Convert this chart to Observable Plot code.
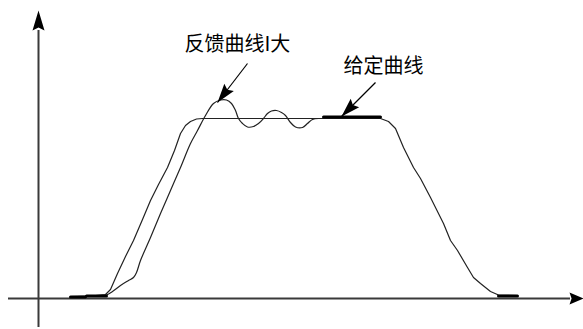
<!DOCTYPE html>
<html><head><meta charset="utf-8">
<script src="https://cdn.jsdelivr.net/npm/d3@7"></script>
<script src="https://cdn.jsdelivr.net/npm/@observablehq/plot@0.6"></script>
<style>html,body{margin:0;padding:0;background:#fff;} #chart svg{display:block;background:#fff}</style>
</head><body><div id="chart"></div>
<script>
// Given curve (给定曲线): time vs value
const givenT = [32,52,67,72,79,87,95,104,112,120,129,136,142,147,152,158,164,342,350,357,365,375,382,392,405,412,419,429,435,442,452,460,479];
const givenV = [2,2.5,4,9,25,42,58,79,98,114,131,148,165,173,177,179.5,180,180,177,170,151,131,120,101,75,58,48,31,21,15,7,3.5,3];
// Feedback curve (反馈曲线): time vs value
const feedT = [32,52,68,74,82,90,95,98,102,112,122,132,142,152,159,167,175,182,188,193,197,200,204,209,215,220,225,229,233,238,243,247,252,257,264,269,274,280];
const feedV = [2,2.5,3.5,7,13,18,21,26,38,61,85,108,131,155,168,183,195,198.5,198.5,195,188,180,175,171.5,172,175,180,185,187.5,188,186,183,176,171.5,171,175,179,180];
// heavy (overlapping) stretches
const thickSeg = ["a","a","a","a","b","b","c","c"];
const thickT = [32,47,48,68,285,342,460,479];
const thickV = [1.5,1.5,2.5,2.5,181.5,181.5,2.5,2.5];
// labels and pointers
const labelText = ["反馈曲线I大","给定曲线"];
const labelT = [146,305];
const labelV = [254,232];
const pointerFromT = [209,337];
const pointerFromV = [235,216];
const pointerToT = [179,303];
const pointerToV = [196,182];
// axes extents
const xAxisFrom = -30, xAxisTo = 532, xAxisTip = 545;
const yAxisFrom = -29, yAxisTo = 268, yAxisTip = 288;

const given = givenT.map((t,i)=>({t, v: givenV[i]}));
const feed = feedT.map((t,i)=>({t, v: feedV[i]}));
const thick = thickT.map((t,i)=>({t, v: thickV[i], s: thickSeg[i]}));
const labels = labelText.map((text,i)=>({text, t: labelT[i], v: labelV[i]}));
const pointers = pointerFromT.map((t,i)=>({t1:t, v1:pointerFromV[i], t2:pointerToT[i], v2:pointerToV[i],
  angle: Math.atan2(pointerToT[i]-t, pointerToV[i]-pointerFromV[i]) * 180/Math.PI}));

function head(L, W){
  return {draw(ctx){ ctx.moveTo(0,0); ctx.lineTo(W/2, L); ctx.lineTo(0, L*0.85); ctx.lineTo(-W/2, L); ctx.closePath(); }};
}

const chart = Plot.plot({
  width: 583, height: 329, margin: 0,
  x: {domain: [-38, 545], range: [0, 583], axis: null},
  y: {domain: [-31, 298], range: [329, 0], axis: null},
  marks: [
    Plot.ruleY([0], {x1: xAxisFrom, x2: xAxisTo, stroke: "#3a3a3a", strokeWidth: 2}),
    Plot.ruleX([0], {y1: yAxisFrom, y2: yAxisTo, stroke: "#3a3a3a", strokeWidth: 2}),
    Plot.dot([{t: xAxisTip, v: 0}], {x: "t", y: "v", symbol: head(14, 12), rotate: 90, fill: "#000", stroke: null}),
    Plot.dot([{t: 0, v: yAxisTip}], {x: "t", y: "v", symbol: head(20, 12), rotate: 0, fill: "#000", stroke: null}),
    Plot.line(given, {x: "t", y: "v", stroke: "#222", strokeWidth: 1.2}),
    Plot.line(feed, {x: "t", y: "v", stroke: "#222", strokeWidth: 1.2, curve: "catmull-rom"}),
    Plot.line(thick, {x: "t", y: "v", z: "s", stroke: "#000", strokeWidth: 3}),
    Plot.link(pointers, {x1: "t1", y1: "v1", x2: "t2", y2: "v2", stroke: "#000", strokeWidth: 1.2}),
    Plot.dot(pointers, {x: "t2", y: "v2", rotate: "angle", symbol: head(19, 12), fill: "#000", stroke: null}),
    Plot.text(labels, {x: "t", y: "v", text: "text", textAnchor: "start", lineAnchor: "middle",
      fontSize: 20, fontFamily: "'Noto Sans CJK SC', sans-serif", fill: "#000", letterSpacing: 1})
  ]
});
document.getElementById("chart").append(chart);
</script>
</body></html>
